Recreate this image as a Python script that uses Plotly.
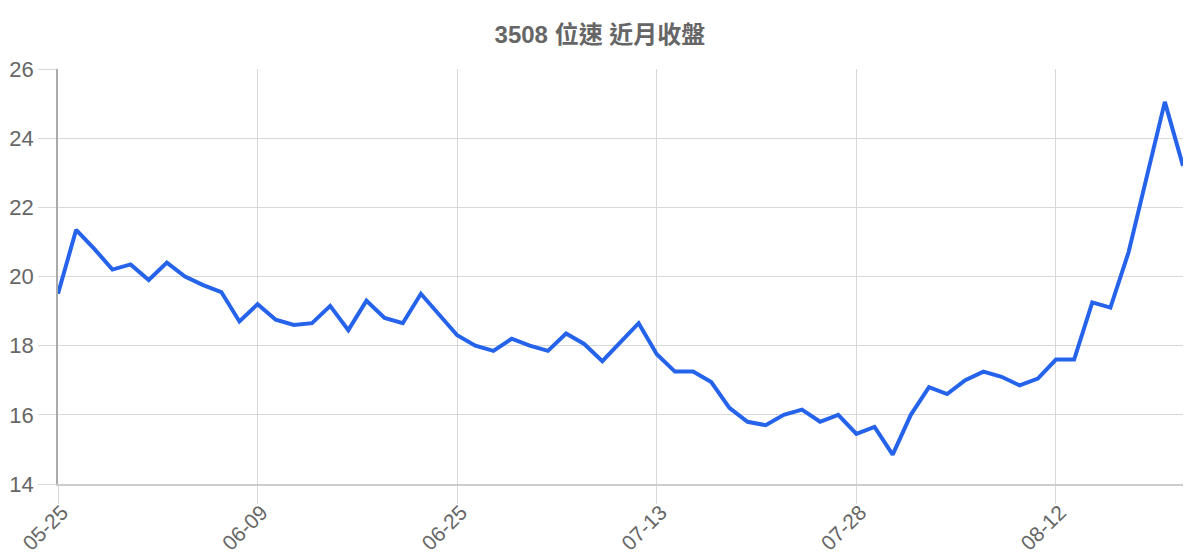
import plotly.graph_objects as go

# trading days (MM-DD) and closing prices
dates = [
    "05-25", "05-26", "05-27", "05-28", "05-31", "06-01", "06-02", "06-03", "06-04", "06-07",
    "06-08", "06-09", "06-10", "06-11", "06-15", "06-16", "06-17", "06-18", "06-21", "06-22",
    "06-23", "06-24", "06-25", "06-28", "06-29", "06-30", "07-01", "07-02", "07-05", "07-06",
    "07-07", "07-08", "07-09", "07-13", "07-14", "07-15", "07-16", "07-19", "07-20", "07-21",
    "07-22", "07-23", "07-26", "07-27", "07-28", "07-29", "07-30", "08-02", "08-03", "08-04",
    "08-05", "08-06", "08-09", "08-10", "08-11", "08-12", "08-13", "08-16", "08-17", "08-18",
    "08-19", "08-20", "08-23",
]
close = [
    19.5, 21.35, 20.8, 20.2, 20.35, 19.9, 20.4, 20.0, 19.75, 19.55,
    18.7, 19.2, 18.75, 18.6, 18.65, 19.15, 18.45, 19.3, 18.8, 18.65,
    19.5, 18.9, 18.3, 18.0, 17.85, 18.2, 18.0, 17.85, 18.35, 18.05,
    17.55, 18.1, 18.65, 17.75, 17.25, 17.25, 16.95, 16.2, 15.8, 15.7,
    16.0, 16.15, 15.8, 16.0, 15.45, 15.65, 14.85, 16.0, 16.8, 16.6,
    17.0, 17.25, 17.1, 16.85, 17.05, 17.6, 17.6, 19.25, 19.1, 20.7,
    22.85, 25.05, 23.2,
]
tick_labels = ["05-25", "06-09", "06-25", "07-13", "07-28", "08-12"]
y_ticks = [14, 16, 18, 20, 22, 24, 26]

fig = go.Figure()
fig.add_trace(go.Scatter(
    x=dates, y=close, mode="lines",
    line=dict(color="#2563eb", width=4),
    hoverinfo="x+y",
))

# the page body has an 8px margin, so margins are shifted to compensate
fig.update_layout(
    title=dict(text="<b>3508 位速 近月收盤</b>", x=0.4933, xanchor="center",
               y=0.952, yanchor="middle",
               font=dict(size=24, color="#666666",
                         family="Liberation Sans, Noto Sans CJK TC, sans-serif")),
    width=1200, height=560,
    margin=dict(l=50, r=25, t=61, b=84),
    paper_bgcolor="white", plot_bgcolor="white",
    showlegend=False,
    font=dict(family="Liberation Sans, Arial, sans-serif", color="#666666"),
)
fig.update_xaxes(
    type="category", range=[0, len(dates) - 1],
    tickmode="array", tickvals=tick_labels, ticktext=tick_labels,
    tickangle=-45, tickfont=dict(size=21, color="#666666"),
    ticklabelstandoff=-12, ticklabelshift=4,
    showgrid=True, gridcolor="#d9d9d9", gridwidth=1,
    ticks="outside", ticklen=18, tickcolor="#d9d9d9",
    showline=True, linecolor="#cccccc", linewidth=1.5,
    zeroline=False, automargin=False,
)
fig.update_yaxes(
    range=[14, 26], tickvals=y_ticks,
    tickfont=dict(size=22, color="#666666"),
    showgrid=True, gridcolor="#d9d9d9", gridwidth=1,
    ticks="outside", ticklen=18, tickcolor="#d9d9d9",
    showline=True, linecolor="#aaaaaa", linewidth=1.5,
    zeroline=False, automargin=False,
)

fig.write_html("out.html")
